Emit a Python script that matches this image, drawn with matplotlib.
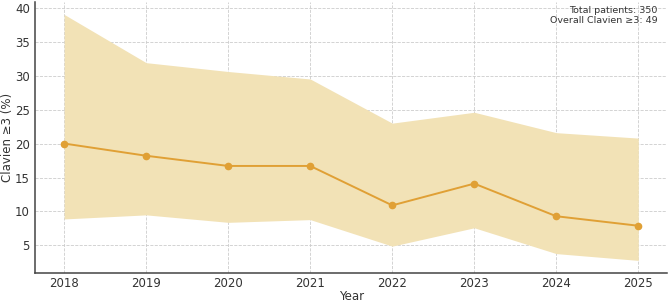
import matplotlib
matplotlib.use("Agg")
import matplotlib.pyplot as plt

years = [2018, 2019, 2020, 2021, 2022, 2023, 2024, 2025]
rate = [20.0, 18.2, 16.7, 16.7, 10.9, 14.1, 9.3, 7.9]
ci_low = [8.9, 9.5, 8.4, 8.8, 4.9, 7.6, 3.8, 2.8]
ci_high = [39.0, 31.9, 30.6, 29.5, 23.0, 24.6, 21.6, 20.8]
annotation = "Total patients: 350\nOverall Clavien \u22653: 49"

line_color = "#E0A035"
fill_color = "#F2E2B6"

fig, ax = plt.subplots(figsize=(6.69, 3.03), dpi=100)
ax.fill_between(years, ci_low, ci_high, color=fill_color, linewidth=0, zorder=1)
ax.plot(years, rate, color=line_color, marker="o", markersize=4.5, linewidth=1.4, zorder=3)

ax.set_xticks(years)
ax.set_xlabel("Year", fontsize=8.5, color="#333333", labelpad=0)
ax.set_ylabel("Clavien \u22653 (%)", fontsize=8.5, color="#333333", labelpad=1)
ax.grid(True, linestyle="--", color="#cccccc", linewidth=0.6, zorder=0)
ax.set_axisbelow(True)
for s in ["top", "right"]:
    ax.spines[s].set_visible(False)
for s in ["left", "bottom"]:
    ax.spines[s].set_color("#444444")
    ax.spines[s].set_linewidth(1.1)
ax.tick_params(colors="#333333", labelsize=8.5, length=0, pad=4)
ax.tick_params(axis="x", pad=3)
ax.text(0.985, 0.985, annotation, transform=ax.transAxes, ha="right", va="top",
        fontsize=6.8, color="#333333", linespacing=1.1)

fig.subplots_adjust(left=0.053, right=0.997, bottom=0.1, top=0.993)
fig.savefig("out.png", dpi=100)
